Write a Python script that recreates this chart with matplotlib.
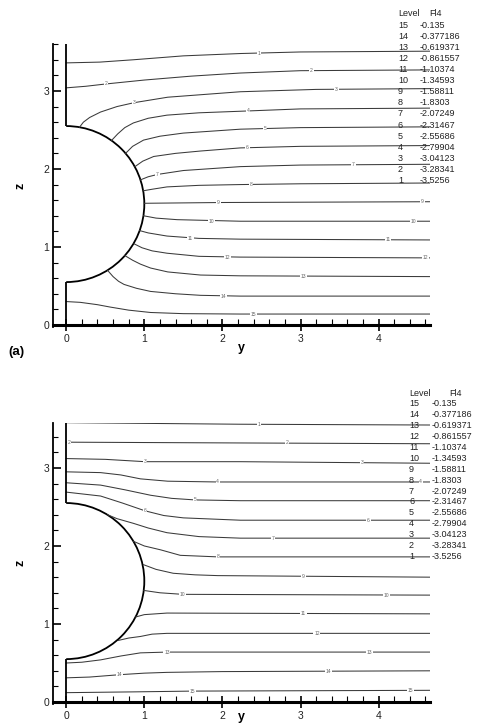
import matplotlib
matplotlib.use("Agg")
import matplotlib.pyplot as plt
from matplotlib.patches import Arc
from matplotlib.ticker import MultipleLocator

plt.rcParams['font.family'] = ['Liberation Sans', 'DejaVu Sans']

W, H = 479, 724

# ---- data ----
levels = [15, 14, 13, 12, 11, 10, 9, 8, 7, 6, 5, 4, 3, 2, 1]
level_values = ["-0.135", "-0.377186", "-0.619371", "-0.861557", "-1.10374", "-1.34593",
                "-1.58811", "-1.8303", "-2.07249", "-2.31467", "-2.55686", "-2.79904",
                "-3.04123", "-3.28341", "-3.5256"]

# panel (a) contour lines: level -> (y list, z list)
a_lines = {
    1: ([0, 0.43, 0.86, 1.5, 2.23, 3.0, 4.66], [3.36, 3.37, 3.40, 3.45, 3.48, 3.50, 3.51]),
    2: ([0, 0.25, 0.51, 1.0, 1.6, 2.23, 3.0, 4.66], [3.04, 3.06, 3.09, 3.14, 3.19, 3.23, 3.26, 3.27]),
    3: ([0.17, 0.22, 0.30, 0.44, 0.65, 0.87, 1.3, 2.23, 3.2, 4.66],
        [2.535, 2.60, 2.66, 2.73, 2.80, 2.85, 2.92, 2.99, 3.02, 3.03]),
    4: ([0.58, 0.66, 0.75, 0.86, 1.05, 1.29, 1.7, 2.23, 3.0, 4.66],
        [2.365, 2.45, 2.53, 2.59, 2.65, 2.69, 2.72, 2.74, 2.77, 2.78]),
    5: ([0.76, 0.85, 0.99, 1.2, 1.5, 2.23, 3.0, 4.66], [2.20, 2.29, 2.37, 2.42, 2.46, 2.51, 2.53, 2.54]),
    6: ([0.88, 0.98, 1.12, 1.4, 1.72, 2.23, 3.0, 4.66], [2.03, 2.10, 2.16, 2.20, 2.23, 2.27, 2.29, 2.30]),
    7: ([0.95, 1.05, 1.17, 1.5, 2.23, 3.0, 4.66], [1.86, 1.90, 1.93, 1.98, 2.03, 2.05, 2.06]),
    8: ([0.985, 1.1, 1.29, 1.7, 2.23, 3.0, 4.66], [1.72, 1.74, 1.77, 1.79, 1.80, 1.81, 1.82]),
    9: ([1.0, 2.0, 4.66], [1.56, 1.57, 1.58]),
    10: ([0.99, 1.15, 1.42, 2.23, 4.66], [1.40, 1.37, 1.35, 1.33, 1.33]),
    11: ([0.94, 1.05, 1.29, 1.7, 2.23, 4.66], [1.21, 1.18, 1.14, 1.11, 1.10, 1.09]),
    12: ([0.87, 0.97, 1.1, 1.29, 1.7, 2.23, 4.66], [1.04, 0.99, 0.95, 0.92, 0.88, 0.87, 0.86]),
    13: ([0.75, 0.85, 0.95, 1.08, 1.3, 1.72, 2.23, 4.66], [0.89, 0.83, 0.78, 0.73, 0.68, 0.64, 0.63, 0.62]),
    14: ([0.53, 0.60, 0.67, 0.74, 0.9, 1.08, 1.4, 1.72, 2.23, 4.66],
         [0.70, 0.62, 0.56, 0.52, 0.47, 0.43, 0.40, 0.38, 0.37, 0.37]),
    15: ([0, 0.18, 0.4, 0.56, 0.8, 1.08, 1.5, 2.23, 4.66],
         [0.30, 0.29, 0.26, 0.23, 0.19, 0.16, 0.145, 0.14, 0.14]),
}
a_labels = [(1, 2.47, 3.48), (2, 0.51, 3.09), (2, 3.14, 3.26), (3, 0.87, 2.85), (3, 3.46, 3.02),
            (4, 2.33, 2.745), (5, 2.55, 2.515), (6, 2.32, 2.275), (7, 1.17, 1.93), (7, 3.68, 2.055),
            (8, 2.37, 1.80), (9, 1.95, 1.57), (9, 4.56, 1.58), (10, 1.86, 1.33), (10, 4.45, 1.33),
            (11, 1.59, 1.11), (11, 4.12, 1.09), (12, 2.06, 0.87), (12, 4.60, 0.86), (13, 3.04, 0.62),
            (14, 2.01, 0.37), (15, 2.40, 0.14)]

# panel (b) contour lines
b_lines = {
    1: ([0, 2.23, 4.66], [3.58, 3.56, 3.55]),
    2: ([0, 2.23, 4.66], [3.33, 3.32, 3.31]),
    3: ([0, 0.5, 1.01, 2.23, 4.66], [3.12, 3.11, 3.08, 3.08, 3.06]),
    4: ([0, 0.44, 0.7, 0.95, 1.3, 1.94, 4.66], [2.95, 2.94, 2.91, 2.86, 2.83, 2.82, 2.82]),
    5: ([0, 0.44, 0.75, 1.08, 1.35, 1.65, 2.23, 4.66], [2.81, 2.78, 2.72, 2.65, 2.61, 2.59, 2.58, 2.58]),
    6: ([0, 0.44, 0.72, 1.01, 1.25, 1.5, 2.23, 4.66], [2.69, 2.64, 2.55, 2.45, 2.39, 2.36, 2.33, 2.33]),
    7: ([0.53, 0.65, 0.86, 1.05, 1.29, 1.7, 2.23, 4.66], [2.40, 2.35, 2.29, 2.23, 2.17, 2.12, 2.10, 2.10]),
    8: ([0.86, 1.0, 1.21, 1.46, 1.94, 4.66], [2.06, 2.00, 1.95, 1.88, 1.86, 1.86]),
    9: ([0.99, 1.15, 1.37, 1.65, 1.94, 4.66], [1.76, 1.70, 1.65, 1.63, 1.62, 1.60]),
    10: ([0.993, 1.2, 1.49, 4.66], [1.43, 1.40, 1.38, 1.37]),
    11: ([0.89, 1.0, 1.29, 4.66], [1.09, 1.12, 1.14, 1.13]),
    12: ([0.67, 0.8, 0.95, 1.1, 1.29, 4.66], [0.79, 0.82, 0.84, 0.87, 0.88, 0.88]),
    13: ([0, 0.2, 0.44, 0.7, 0.95, 1.29, 4.66], [0.50, 0.51, 0.54, 0.59, 0.63, 0.64, 0.64]),
    14: ([0, 0.3, 0.68, 1.0, 1.29, 2.0, 4.66], [0.31, 0.32, 0.35, 0.37, 0.38, 0.39, 0.40]),
    15: ([0, 0.86, 1.62, 4.66], [0.12, 0.13, 0.14, 0.15]),
}
b_labels = [(1, 2.47, 3.56), (2, 0.04, 3.33), (2, 2.83, 3.32), (3, 1.01, 3.08), (3, 3.79, 3.07),
            (4, 1.94, 2.82), (4, 4.54, 2.82), (5, 1.65, 2.59), (6, 1.01, 2.45), (6, 3.87, 2.33),
            (7, 2.65, 2.10), (8, 1.94, 1.86), (9, 3.04, 1.61), (10, 1.49, 1.38), (10, 4.10, 1.37),
            (11, 3.04, 1.135), (12, 3.21, 0.88), (13, 1.29, 0.64), (13, 3.88, 0.64), (14, 0.68, 0.35),
            (14, 3.36, 0.39), (15, 1.62, 0.14), (15, 4.41, 0.15)]

x_ticks = [0, 1, 2, 3, 4]
z_ticks = [0, 1, 2, 3]

fig = plt.figure(figsize=(W / 100, H / 100), dpi=100)


def make_panel(rect, zmax, lines, labels):
    ax = fig.add_axes(rect)
    ax.set_xlim(-0.167, 4.66)
    ax.set_ylim(-0.02, zmax)
    for s in ['top', 'right']:
        ax.spines[s].set_visible(False)
    ax.spines['bottom'].set_position(('data', 0))
    ax.spines['bottom'].set_linewidth(2.2)
    ax.spines['left'].set_linewidth(1.3)
    ax.set_xticks(x_ticks)
    ax.set_yticks(z_ticks)
    ax.xaxis.set_minor_locator(MultipleLocator(0.2))
    ax.yaxis.set_minor_locator(MultipleLocator(0.2))
    ax.tick_params(axis='x', which='major', direction='inout', length=9, width=1.2, labelsize=7.5, pad=2)
    ax.tick_params(axis='x', which='minor', direction='in', length=4, width=0.8)
    ax.tick_params(axis='y', which='major', direction='in', length=6, width=1.2, labelsize=7.5, pad=3)
    ax.tick_params(axis='y', which='minor', direction='in', length=3.5, width=0.8)
    for lab in ax.get_xticklabels() + ax.get_yticklabels():
        lab.set_color('#222222')
    # contour lines
    for lev, (ys, zs) in lines.items():
        ax.plot(ys, zs, color='#3a3a3a', lw=0.75, solid_joinstyle='round')
    for lev, y, z in labels:
        ax.text(y, z, str(lev), fontsize=3.6, color='#666666', ha='center', va='center',
                bbox=dict(boxstyle='square,pad=0.15', fc='white', ec='none'))
    # body boundary
    ax.plot([0, 0], [0, 0.55], color='black', lw=1.3, clip_on=False, solid_capstyle='butt')
    ax.plot([0, 0], [2.55, zmax], color='black', lw=1.3, clip_on=False, solid_capstyle='butt')
    ax.add_patch(Arc((0, 1.55), 2, 2, theta1=-90, theta2=90, color='black', lw=1.3))
    ax.plot([0, 4.66], [0, 0], color='black', lw=1.0, clip_on=False)
    return ax


ax1 = make_panel([0.111, 0.549, 0.787, 0.390], 3.6, a_lines, a_labels)
ax2 = make_panel([0.111, 0.0282, 0.787, 0.388], 3.58, b_lines, b_labels)


def ftext(x, y, s, **kw):
    fig.text(x / W, 1 - y / H, s, **kw)


# axis labels
ftext(241, 348, 'y', fontsize=9, fontweight='bold', ha='center', va='center')
ftext(20, 186, 'z', fontsize=9, fontweight='bold', ha='center', va='center', rotation=90)
ftext(8, 352, '(a)', fontsize=9.5, fontweight='bold', ha='left', va='center')
ftext(241, 717, 'y', fontsize=9, fontweight='bold', ha='center', va='center')
ftext(20, 563, 'z', fontsize=9, fontweight='bold', ha='center', va='center', rotation=90)


def legend(x_num, x_val, x_head, y0, dy):
    ftext(x_num, y0, 'Level', fontsize=6.5, color='#222222', ha='left', va='center')
    ftext(x_head, y0, 'Fl4', fontsize=6.5, color='#222222', ha='left', va='center')
    for i, (lev, val) in enumerate(zip(levels, level_values)):
        yy = y0 + dy * (i + 1)
        ftext(x_num, yy, str(lev), fontsize=6.5, color='#222222', ha='left', va='center')
        ftext(x_val, yy, val, fontsize=6.5, color='#222222', ha='left', va='center')


legend(398, 420, 429, 14, 11.1)
legend(409, 432, 449, 393, 10.9)

fig.savefig('out.png', dpi=100)
